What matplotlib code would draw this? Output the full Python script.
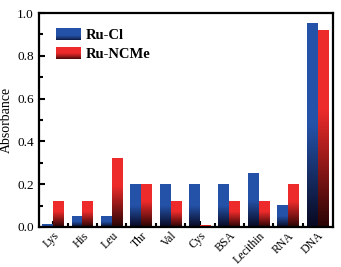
import numpy as np
import matplotlib
matplotlib.use("Agg")
import matplotlib.pyplot as plt
from matplotlib.colors import LinearSegmentedColormap
from matplotlib.legend_handler import HandlerBase
from matplotlib.patches import Rectangle, Patch
from matplotlib.ticker import MultipleLocator, FormatStrFormatter

# data
categories = ["Lys", "His", "Leu", "Thr", "Val", "Cys", "BSA", "Lecithin", "RNA", "DNA"]
ru_cl = [0.01, 0.05, 0.05, 0.20, 0.20, 0.20, 0.20, 0.25, 0.10, 0.95]
ru_ncme = [0.12, 0.12, 0.32, 0.20, 0.12, 0.005, 0.12, 0.12, 0.20, 0.92]
series_names = ["Ru-Cl", "Ru-NCMe"]

plt.rcParams["font.family"] = ["Liberation Serif", "DejaVu Serif"]

# colour ramps: dark at the bottom of a bar, bright at the top
blue_cmap = LinearSegmentedColormap.from_list(
    "blue_grad", [(0.0, "#080820"), (0.5, "#2452a8"), (1.0, "#2452a8")])
red_cmap = LinearSegmentedColormap.from_list(
    "red_grad", [(0.0, "#280404"), (0.6, "#ee2b2b"), (1.0, "#ee2b2b")])


class GradientHandler(HandlerBase):
    """legend handle drawn as a stack of thin coloured strips"""
    def __init__(self, cmap):
        super().__init__()
        self.cmap = cmap

    def create_artists(self, legend, orig_handle, xdescent, ydescent,
                       width, height, fontsize, trans):
        n = 24
        arts = []
        for i in range(n):
            c = self.cmap(0.15 + 0.85 * i / (n - 1))
            r = Rectangle((-xdescent, -ydescent + height * i / n), width,
                          height / n * 1.05, facecolor=c,
                          edgecolor="none", transform=trans)
            arts.append(r)
        return arts


fig = plt.figure(figsize=(3.41, 2.67), dpi=100)
ax = fig.add_axes([0.114, 0.150, 0.862, 0.801])

x = np.arange(len(categories))
w = 0.37
grad = np.linspace(0, 1, 256).reshape(-1, 1)

for vals, offset, cmap in [(ru_cl, -w / 2, blue_cmap), (ru_ncme, w / 2, red_cmap)]:
    bars = ax.bar(x + offset, vals, width=w, color="none", edgecolor="none")
    for rect in bars:
        x0, y0 = rect.get_x(), rect.get_y()
        bw, bh = rect.get_width(), rect.get_height()
        ax.imshow(grad, extent=[x0, x0 + bw, y0, y0 + bh], origin="lower",
                  aspect="auto", cmap=cmap, zorder=2)

ax.set_xlim(-0.48, 9.52)
ax.set_ylim(0, 1.0)

ax.set_xticks(x)
ax.set_xticklabels(categories, fontsize=8.5)
plt.setp(ax.get_xticklabels(), rotation=45, ha="right", rotation_mode="anchor")
ax.set_xticks(x[:-1] + 0.5, minor=True)
ax.yaxis.set_major_locator(MultipleLocator(0.2))
ax.yaxis.set_minor_locator(MultipleLocator(0.1))
ax.yaxis.set_major_formatter(FormatStrFormatter("%.1f"))
ax.tick_params(axis="both", which="both", direction="in", width=1.5)
ax.tick_params(axis="y", labelsize=9.5)
ax.tick_params(axis="both", which="major", length=4)
ax.tick_params(axis="both", which="minor", length=3)
ax.tick_params(axis="x", which="major", pad=2)
ax.set_ylabel("Absorbance", fontsize=10, labelpad=3)
for s in ax.spines.values():
    s.set_linewidth(1.6)

handles = [Patch(label=series_names[0]), Patch(label=series_names[1])]
leg = ax.legend(handles=handles, loc="upper left", bbox_to_anchor=(0.015, 0.99),
                frameon=False, prop={"weight": "bold", "size": 10.5},
                handlelength=1.7, handleheight=0.85, labelspacing=0.35,
                handletextpad=0.3,
                handler_map={handles[0]: GradientHandler(blue_cmap),
                             handles[1]: GradientHandler(red_cmap)})

fig.savefig("out.png", dpi=100)
